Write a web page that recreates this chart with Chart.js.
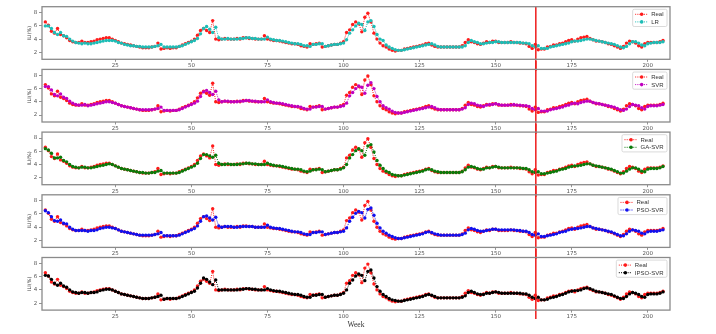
<!DOCTYPE html>
<html>
<head>
<meta charset="utf-8">
<script src="https://cdn.jsdelivr.net/npm/chart.js@4.4.0/dist/chart.umd.min.js"></script>
<style>
  html, body { margin: 0; padding: 0; background: #fff; }
  #wrap { position: relative; width: 716px; height: 334px; overflow: hidden; }
  .panel { position: absolute; left: 0; }
</style>
</head>
<body>
<div id="wrap"></div>
<script>
// weekly ILI(%) values, weeks 2..205
const FIRST_WEEK = 2;
const SPLIT_WEEK = 163.2;
const xTicks = [25, 50, 75, 100, 125, 150, 175, 200];
const yTicks = [2, 4, 6, 8];

const realValues = [
  6.6, 6.1, 5.2, 4.9, 5.6, 4.7, 4.5, 4.2, 3.8,
  3.6, 3.5, 3.5, 3.7, 3.5, 3.5, 3.6, 3.7, 3.9, 4.0,
  4.1, 4.2, 4.2, 4.0, 3.8, 3.6, 3.4, 3.3, 3.2, 3.1,
  3.0, 2.9, 2.8, 2.7, 2.7, 2.7, 2.8, 2.9, 3.4, 2.5,
  2.6, 2.7, 2.6, 2.7, 2.7, 2.9, 3.1, 3.3, 3.5, 3.7,
  4.0, 4.6, 5.3, 5.6, 5.3, 5.0, 6.8, 4.0, 3.9, 4.0,
  4.1, 4.0, 4.0, 4.0, 4.1, 4.0, 4.2, 4.2, 4.1, 4.1,
  4.0, 4.0, 4.0, 4.5, 4.0, 3.9, 3.8, 3.8, 3.7, 3.6,
  3.5, 3.4, 3.3, 3.3, 3.2, 3.0, 2.9, 2.8, 3.3, 3.2,
  3.3, 3.4, 2.8, 2.9, 3.0, 3.1, 3.2, 3.2, 3.4, 3.6,
  5.0, 5.4, 6.2, 6.6, 6.3, 5.1, 7.3, 7.9, 6.6, 4.9,
  4.0, 3.4, 3.0, 2.8, 2.5, 2.3, 2.2, 2.3, 2.3, 2.5,
  2.6, 2.7, 2.8, 2.9, 3.0, 3.1, 3.3, 3.4, 3.1, 2.9,
  2.8, 2.8, 2.8, 2.8, 2.8, 2.8, 2.8, 2.8, 3.0, 3.5,
  3.9, 3.6, 3.5, 3.3, 3.2, 3.4, 3.6, 3.5, 3.7, 3.7,
  3.5, 3.5, 3.5, 3.5, 3.6, 3.5, 3.5, 3.4, 3.4, 3.3,
  2.9, 2.6, 3.2, 2.4, 2.5, 2.5, 2.8, 2.9, 3.1, 3.1,
  3.3, 3.4, 3.6, 3.8, 3.9, 3.7, 4.0, 4.2, 4.3, 4.4,
  4.1, 3.9, 3.7, 3.7, 3.6, 3.5, 3.3, 3.2, 3.0, 2.8,
  2.6, 2.9, 3.4, 3.7, 3.6, 3.4, 3.0, 2.8, 3.3, 3.5,
  3.5, 3.5, 3.5, 3.6, 3.8,
];

const lrValues = [
  6.0, 6.0, 5.6, 5.0, 4.7, 5.0, 4.5, 4.4, 4.0,
  3.7, 3.5, 3.4, 3.3, 3.4, 3.3, 3.3, 3.4, 3.5, 3.6,
  3.7, 3.8, 3.8, 3.8, 3.7, 3.5, 3.4, 3.2, 3.1, 3.0,
  3.0, 2.9, 2.9, 2.8, 2.8, 2.8, 2.8, 2.9, 3.0, 3.2,
  2.8, 2.8, 2.8, 2.8, 2.8, 2.9, 3.0, 3.2, 3.4, 3.6,
  3.8, 4.1, 4.8, 5.6, 5.9, 5.5, 5.0, 5.8, 4.2, 4.0,
  4.0, 4.1, 4.0, 4.0, 4.0, 4.1, 4.1, 4.2, 4.2, 4.1,
  4.1, 4.0, 4.0, 4.0, 4.3, 4.0, 3.9, 3.8, 3.8, 3.7,
  3.6, 3.5, 3.4, 3.3, 3.3, 3.2, 3.0, 3.0, 2.9, 3.2,
  3.2, 3.3, 3.3, 2.9, 3.0, 3.1, 3.2, 3.2, 3.3, 3.4,
  3.9, 4.9, 5.4, 6.0, 6.4, 6.2, 5.3, 6.6, 6.8, 5.9,
  4.7, 4.0, 3.8, 3.1, 2.8, 2.6, 2.4, 2.3, 2.3, 2.4,
  2.5, 2.6, 2.7, 2.8, 2.9, 3.0, 3.1, 3.2, 3.3, 3.1,
  2.9, 2.8, 2.8, 2.8, 2.8, 2.8, 2.8, 2.8, 2.8, 3.0,
  3.5, 3.8, 3.6, 3.5, 3.3, 3.3, 3.4, 3.5, 3.5, 3.6,
  3.6, 3.5, 3.5, 3.5, 3.5, 3.5, 3.5, 3.5, 3.4, 3.4,
  3.3, 3.0, 2.8, 3.0, 2.6, 2.6, 2.6, 2.8, 2.9, 3.0,
  3.1, 3.2, 3.3, 3.4, 3.6, 3.7, 3.7, 3.8, 3.9, 4.0,
  4.0, 3.9, 3.8, 3.7, 3.6, 3.5, 3.4, 3.3, 3.2, 3.0,
  2.8, 2.7, 2.9, 3.3, 3.6, 3.6, 3.4, 3.1, 3.0, 3.3,
  3.4, 3.5, 3.5, 3.5, 3.6,
];

const svrValues = [
  6.3, 6.3, 5.8, 5.1, 4.9, 5.2, 4.7, 4.5, 4.1,
  3.8, 3.6, 3.5, 3.5, 3.6, 3.4, 3.5, 3.6, 3.7, 3.8,
  3.9, 4.0, 4.0, 3.9, 3.8, 3.6, 3.4, 3.3, 3.2, 3.1,
  3.0, 2.9, 2.8, 2.8, 2.8, 2.8, 2.8, 2.9, 3.0, 3.2,
  2.7, 2.7, 2.7, 2.7, 2.7, 2.8, 3.0, 3.2, 3.4, 3.6,
  3.8, 4.1, 4.8, 5.5, 5.7, 5.4, 5.1, 5.6, 4.3, 4.0,
  4.1, 4.1, 4.0, 4.0, 4.0, 4.1, 4.1, 4.2, 4.2, 4.1,
  4.1, 4.0, 4.0, 4.0, 4.3, 4.0, 3.9, 3.8, 3.8, 3.7,
  3.6, 3.5, 3.4, 3.3, 3.3, 3.2, 3.0, 2.9, 2.9, 3.2,
  3.2, 3.3, 3.3, 2.9, 3.0, 3.1, 3.2, 3.2, 3.3, 3.4,
  3.8, 4.9, 5.4, 6.0, 6.4, 6.2, 5.3, 6.5, 6.9, 6.0,
  4.8, 4.0, 3.4, 3.1, 2.9, 2.6, 2.4, 2.3, 2.3, 2.4,
  2.5, 2.6, 2.7, 2.8, 2.9, 3.0, 3.1, 3.2, 3.3, 3.1,
  2.9, 2.8, 2.8, 2.8, 2.8, 2.8, 2.8, 2.8, 2.9, 3.1,
  3.6, 3.8, 3.7, 3.5, 3.4, 3.3, 3.5, 3.6, 3.6, 3.7,
  3.6, 3.5, 3.5, 3.5, 3.5, 3.6, 3.5, 3.5, 3.4, 3.4,
  3.3, 3.0, 2.8, 3.0, 2.6, 2.6, 2.6, 2.8, 2.9, 3.0,
  3.1, 3.2, 3.4, 3.5, 3.7, 3.8, 3.7, 3.9, 4.0, 4.1,
  4.1, 3.9, 3.8, 3.7, 3.6, 3.5, 3.4, 3.3, 3.2, 3.0,
  2.8, 2.7, 2.9, 3.3, 3.6, 3.5, 3.4, 3.1, 2.9, 3.3,
  3.4, 3.4, 3.4, 3.5, 3.6,
];

const gaSvrValues = [
  6.4, 6.2, 5.7, 5.0, 5.0, 5.1, 4.6, 4.4, 4.0,
  3.7, 3.6, 3.5, 3.6, 3.6, 3.5, 3.5, 3.6, 3.7, 3.8,
  3.9, 4.0, 4.1, 4.0, 3.8, 3.6, 3.4, 3.3, 3.2, 3.1,
  3.0, 2.9, 2.8, 2.8, 2.7, 2.7, 2.8, 2.8, 3.0, 3.1,
  2.7, 2.7, 2.7, 2.7, 2.7, 2.8, 3.0, 3.2, 3.4, 3.6,
  3.8, 4.2, 4.9, 5.5, 5.5, 5.3, 5.1, 5.4, 4.2, 4.0,
  4.0, 4.1, 4.0, 4.0, 4.0, 4.1, 4.1, 4.2, 4.2, 4.1,
  4.1, 4.0, 4.0, 4.0, 4.2, 4.0, 3.9, 3.8, 3.8, 3.7,
  3.6, 3.5, 3.4, 3.3, 3.3, 3.2, 3.0, 2.9, 3.0, 3.2,
  3.2, 3.3, 3.2, 2.9, 3.0, 3.1, 3.2, 3.2, 3.3, 3.5,
  4.0, 5.0, 5.5, 6.1, 6.4, 6.1, 5.4, 6.8, 7.0, 5.9,
  4.6, 3.9, 3.4, 3.0, 2.8, 2.5, 2.4, 2.3, 2.3, 2.4,
  2.5, 2.6, 2.7, 2.8, 2.9, 3.0, 3.2, 3.3, 3.2, 3.0,
  2.9, 2.8, 2.8, 2.8, 2.8, 2.8, 2.8, 2.8, 2.9, 3.2,
  3.6, 3.7, 3.6, 3.4, 3.3, 3.3, 3.5, 3.5, 3.6, 3.7,
  3.6, 3.5, 3.5, 3.5, 3.5, 3.5, 3.5, 3.5, 3.4, 3.4,
  3.2, 2.9, 2.8, 2.9, 2.6, 2.6, 2.7, 2.8, 2.9, 3.0,
  3.2, 3.3, 3.4, 3.6, 3.7, 3.8, 3.8, 3.9, 4.0, 4.1,
  4.1, 3.9, 3.8, 3.7, 3.6, 3.5, 3.4, 3.3, 3.1, 2.9,
  2.7, 2.7, 3.0, 3.3, 3.5, 3.5, 3.3, 3.0, 2.9, 3.3,
  3.4, 3.4, 3.4, 3.5, 3.7,
];

const psoSvrValues = [
  6.5, 6.2, 5.6, 5.0, 4.9, 5.1, 4.6, 4.5, 4.0,
  3.7, 3.5, 3.5, 3.5, 3.5, 3.4, 3.5, 3.5, 3.6, 3.8,
  3.9, 4.0, 4.0, 3.9, 3.8, 3.6, 3.4, 3.3, 3.2, 3.1,
  3.0, 2.9, 2.8, 2.8, 2.8, 2.8, 2.8, 2.9, 3.0, 3.2,
  2.7, 2.7, 2.7, 2.7, 2.7, 2.8, 3.0, 3.2, 3.4, 3.6,
  3.8, 4.2, 4.9, 5.6, 5.7, 5.4, 5.1, 5.5, 4.2, 4.0,
  4.1, 4.1, 4.1, 4.0, 4.0, 4.1, 4.1, 4.1, 4.1, 4.1,
  4.0, 4.0, 4.0, 4.0, 4.3, 4.0, 3.9, 3.8, 3.8, 3.7,
  3.6, 3.5, 3.4, 3.3, 3.3, 3.2, 3.0, 2.9, 2.9, 3.2,
  3.2, 3.3, 3.3, 2.9, 3.0, 3.1, 3.2, 3.2, 3.3, 3.4,
  3.9, 4.9, 5.5, 6.1, 6.4, 6.2, 5.4, 6.7, 6.9, 5.8,
  4.6, 3.9, 3.4, 3.1, 2.8, 2.6, 2.4, 2.3, 2.3, 2.4,
  2.5, 2.6, 2.7, 2.8, 2.9, 3.0, 3.2, 3.3, 3.2, 3.0,
  2.9, 2.8, 2.8, 2.8, 2.8, 2.8, 2.8, 2.8, 2.9, 3.1,
  3.6, 3.8, 3.7, 3.5, 3.4, 3.4, 3.5, 3.6, 3.7, 3.7,
  3.6, 3.6, 3.6, 3.6, 3.6, 3.6, 3.5, 3.5, 3.4, 3.4,
  3.2, 2.9, 2.8, 3.0, 2.6, 2.6, 2.7, 2.8, 2.9, 3.0,
  3.2, 3.3, 3.4, 3.6, 3.7, 3.8, 3.8, 3.9, 4.0, 4.1,
  4.1, 3.9, 3.8, 3.7, 3.6, 3.5, 3.4, 3.3, 3.1, 2.9,
  2.7, 2.7, 3.0, 3.4, 3.6, 3.5, 3.4, 3.1, 3.0, 3.3,
  3.4, 3.4, 3.4, 3.5, 3.6,
];

const ipsoSvrValues = [
  6.2, 6.1, 5.6, 5.0, 4.7, 5.0, 4.6, 4.4, 4.0,
  3.7, 3.6, 3.5, 3.6, 3.6, 3.5, 3.6, 3.6, 3.7, 3.9,
  4.0, 4.1, 4.1, 4.0, 3.8, 3.6, 3.4, 3.3, 3.2, 3.1,
  3.0, 2.9, 2.8, 2.7, 2.7, 2.7, 2.8, 2.9, 3.0, 3.2,
  2.6, 2.7, 2.7, 2.7, 2.7, 2.8, 3.0, 3.2, 3.4, 3.6,
  3.8, 4.3, 5.0, 5.8, 5.6, 5.2, 4.8, 5.5, 4.0, 4.0,
  4.0, 4.0, 4.0, 4.0, 4.0, 4.1, 4.1, 4.2, 4.2, 4.1,
  4.1, 4.0, 4.0, 4.0, 4.2, 4.0, 3.9, 3.8, 3.8, 3.7,
  3.6, 3.5, 3.4, 3.3, 3.3, 3.2, 3.0, 2.9, 2.9, 3.2,
  3.2, 3.3, 3.3, 2.9, 3.0, 3.1, 3.2, 3.2, 3.3, 3.5,
  4.0, 5.0, 5.5, 6.1, 6.4, 6.2, 5.4, 6.8, 7.0, 5.8,
  4.5, 3.8, 3.3, 3.0, 2.7, 2.5, 2.4, 2.3, 2.3, 2.4,
  2.5, 2.6, 2.7, 2.8, 2.9, 3.0, 3.2, 3.3, 3.2, 3.0,
  2.8, 2.8, 2.8, 2.8, 2.8, 2.8, 2.8, 2.8, 2.9, 3.1,
  3.6, 3.8, 3.6, 3.4, 3.3, 3.3, 3.5, 3.5, 3.6, 3.7,
  3.6, 3.5, 3.5, 3.5, 3.5, 3.5, 3.5, 3.5, 3.4, 3.4,
  3.2, 2.9, 2.7, 2.9, 2.5, 2.5, 2.6, 2.8, 2.9, 3.0,
  3.2, 3.3, 3.5, 3.7, 3.8, 3.9, 3.9, 4.0, 4.2, 4.3,
  4.2, 4.0, 3.8, 3.7, 3.6, 3.5, 3.4, 3.3, 3.1, 2.9,
  2.7, 2.7, 3.0, 3.4, 3.6, 3.5, 3.3, 3.0, 2.9, 3.3,
  3.4, 3.4, 3.4, 3.5, 3.7,
];

const modelLabels = ["LR", "SVR", "GA-SVR", "PSO-SVR", "IPSO-SVR"];
const modelColors = ["#1dbdb6", "#c000c0", "#0a7a0a", "#1010ee", "#000000"];
const modelSeries = [lrValues, svrValues, gaSvrValues, psoSvrValues, ipsoSvrValues];
const REAL_COLOR = "#ff1a1a";

// geometry of the stacked panels (px)
const PANEL_TOP = 6.7;
const PANEL_STEP = 62.7;
const PANEL_HEIGHT = 52.6;
const AREA_LEFT = 42;
const AREA_RIGHT = 670;
const PAD_LEFT = 26.5;
const CANVAS_W = 716;
const CANVAS_H = 334;

const TICK_FONT = { family: "DejaVu Sans", size: 5.5 };
const LEGEND_FONT = "6px 'Liberation Sans', 'DejaVu Sans', sans-serif";

function toPoints(values) {
  return values.map((v, i) => ({ x: FIRST_WEEK + i, y: v }));
}

const framePlugin = {
  id: "frame",
  afterDatasetsDraw(chart) {
    const { ctx, chartArea: a, scales } = chart;
    const opts = chart.options.plugins.frame;
    const x = scales.x.getPixelForValue(SPLIT_WEEK);
    ctx.save();
    ctx.strokeStyle = "#ee1c1c";
    ctx.lineWidth = 1.5;
    ctx.beginPath();
    ctx.moveTo(x, opts.first ? a.top : 0);
    ctx.lineTo(x, opts.last ? a.bottom + 9 : chart.height);
    ctx.stroke();
    ctx.strokeStyle = "#8a8a8a";
    ctx.lineWidth = 1.3;
    ctx.strokeRect(a.left, a.top, a.right - a.left, a.bottom - a.top);
    ctx.restore();
  },
};

const cornerLegendPlugin = {
  id: "cornerLegend",
  afterDraw(chart) {
    const { ctx, chartArea: a } = chart;
    const rows = chart.data.datasets;
    ctx.save();
    ctx.font = LEGEND_FONT;
    const textW = Math.max(...rows.map((d) => ctx.measureText(d.label).width));
    const pad = 2.5;
    const sample = 13;
    const gap = 3;
    const rowH = 7.6;
    const w = pad + sample + gap + textW + pad + 1;
    const h = rows.length * rowH + 2;
    const x0 = a.right - 3 - w;
    const y0 = a.top + 2.6;

    ctx.fillStyle = "rgba(255,255,255,0.9)";
    ctx.strokeStyle = "#d0d0d0";
    ctx.lineWidth = 0.8;
    ctx.beginPath();
    ctx.roundRect(x0, y0, w, h, 1.5);
    ctx.fill();
    ctx.stroke();

    rows.forEach((d, i) => {
      const cy = y0 + 5 + i * rowH;
      ctx.strokeStyle = d.borderColor;
      ctx.lineWidth = 1;
      ctx.setLineDash([1, 1.2]);
      ctx.beginPath();
      ctx.moveTo(x0 + pad, cy);
      ctx.lineTo(x0 + pad + sample, cy);
      ctx.stroke();
      ctx.setLineDash([]);
      ctx.fillStyle = d.borderColor;
      ctx.beginPath();
      ctx.arc(x0 + pad + sample / 2, cy, 1.8, 0, Math.PI * 2);
      ctx.fill();
      ctx.fillStyle = "#333";
      ctx.textBaseline = "middle";
      ctx.textAlign = "left";
      ctx.fillText(d.label, x0 + pad + sample + gap, cy + 0.3);
    });
    ctx.restore();
  },
};

function seriesStyle(color) {
  return {
    borderColor: color,
    backgroundColor: color,
    pointBackgroundColor: color,
    borderWidth: 1,
    borderDash: [1, 1.2],
    pointRadius: 1.7,
    pointBorderWidth: 0,
    pointHoverRadius: 2,
    tension: 0,
  };
}

function makePanel(index) {
  const isLast = index === modelLabels.length - 1;
  const areaTop = PANEL_TOP + index * PANEL_STEP;
  const canvasTop = Math.floor(areaTop - 8);
  const padTop = areaTop - canvasTop;
  const canvasH = isLast ? CANVAS_H - canvasTop : Math.ceil(PANEL_STEP + 10);

  const holder = document.createElement("div");
  holder.className = "panel";
  holder.style.top = `${canvasTop}px`;
  const canvas = document.createElement("canvas");
  canvas.width = CANVAS_W;
  canvas.height = canvasH;
  holder.append(canvas);
  document.getElementById("wrap").append(holder);

  return new Chart(canvas, {
    type: "line",
    data: {
      datasets: [
        { label: "Real", data: toPoints(realValues), order: 1, ...seriesStyle(REAL_COLOR) },
        {
          label: modelLabels[index],
          data: toPoints(modelSeries[index]),
          order: 0,
          ...seriesStyle(modelColors[index]),
        },
      ],
    },
    options: {
      responsive: false,
      animation: false,
      parsing: false,
      layout: {
        padding: { left: PAD_LEFT, right: CANVAS_W - AREA_RIGHT, top: padTop, bottom: 0 },
      },
      scales: {
        x: {
          type: "linear",
          min: 0.9,
          max: 207.3,
          afterBuildTicks(scale) {
            scale.ticks = xTicks.map((v) => ({ value: v }));
          },
          afterFit(scale) {
            scale.height = canvasH - padTop - PANEL_HEIGHT;
          },
          grid: {
            display: true,
            drawOnChartArea: false,
            drawTicks: true,
            tickLength: 2.5,
            color: "#777",
            lineWidth: 0.8,
          },
          border: { display: false },
          ticks: { font: TICK_FONT, color: "#555", padding: 0.8, maxRotation: 0 },
          title: {
            display: isLast,
            text: "Week",
            color: "#333",
            font: { family: "Liberation Serif", size: 7.5 },
            padding: { top: 0, bottom: 4.5 },
          },
        },
        y: {
          min: 0.95,
          max: 8.9,
          afterBuildTicks(scale) {
            scale.ticks = yTicks.map((v) => ({ value: v }));
          },
          afterFit(scale) {
            scale.width = AREA_LEFT - PAD_LEFT;
          },
          grid: {
            display: true,
            drawOnChartArea: false,
            drawTicks: true,
            tickLength: 3,
            color: "#777",
            lineWidth: 0.8,
          },
          border: { display: false },
          ticks: { font: TICK_FONT, color: "#555", padding: 1.8 },
          title: {
            display: true,
            text: "ILI(%)",
            color: "#444",
            font: { family: "DejaVu Sans", size: 5 },
            padding: 0,
          },
        },
      },
      plugins: {
        legend: { display: false },
        tooltip: { enabled: false },
        frame: { first: index === 0, last: isLast },
      },
    },
    plugins: [framePlugin, cornerLegendPlugin],
  });
}

modelLabels.forEach((_, i) => makePanel(i));
</script>
</body>
</html>
